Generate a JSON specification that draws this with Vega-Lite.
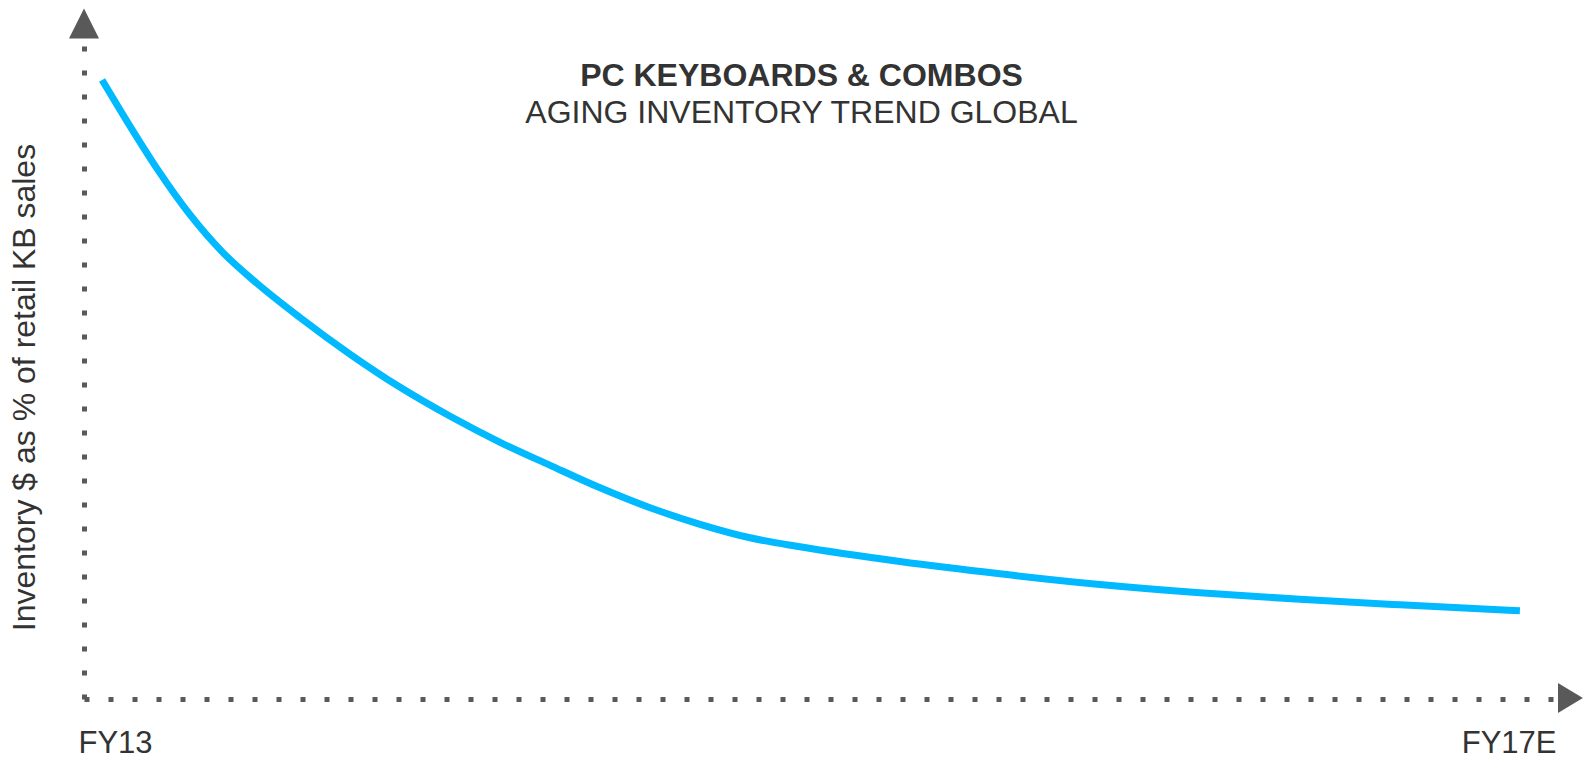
{
  "$schema": "https://vega.github.io/schema/vega-lite/v6.json",
  "width": 1471,
  "height": 654,
  "autosize": {"type": "none"},
  "padding": {"left": 84, "top": 45, "right": 28, "bottom": 60},
  "background": "white",
  "config": {"view": {"stroke": null}, "font": "Liberation Sans"},
  "title": {
    "text": "PC KEYBOARDS & COMBOS",
    "subtitle": "AGING INVENTORY TREND GLOBAL",
    "anchor": "middle",
    "frame": "group",
    "dx": -18,
    "offset": -122,
    "font": "Liberation Sans",
    "fontSize": 32,
    "fontWeight": "bold",
    "color": "#333333",
    "subtitleFont": "Liberation Sans",
    "subtitleFontSize": 32,
    "subtitleFontWeight": "normal",
    "subtitleColor": "#333333",
    "subtitlePadding": 5
  },
  "layer": [
    {
      "data": {
        "values": [
          {"fiscal_year": 2013.000, "inventory_pct": 94.65},
          {"fiscal_year": 2013.059, "inventory_pct": 89.34},
          {"fiscal_year": 2013.155, "inventory_pct": 81.10},
          {"fiscal_year": 2013.248, "inventory_pct": 74.05},
          {"fiscal_year": 2013.341, "inventory_pct": 68.25},
          {"fiscal_year": 2013.437, "inventory_pct": 63.55},
          {"fiscal_year": 2013.559, "inventory_pct": 58.30},
          {"fiscal_year": 2013.700, "inventory_pct": 52.71},
          {"fiscal_year": 2013.841, "inventory_pct": 47.66},
          {"fiscal_year": 2013.982, "inventory_pct": 43.23},
          {"fiscal_year": 2014.123, "inventory_pct": 39.25},
          {"fiscal_year": 2014.264, "inventory_pct": 35.73},
          {"fiscal_year": 2014.405, "inventory_pct": 32.29},
          {"fiscal_year": 2014.546, "inventory_pct": 29.24},
          {"fiscal_year": 2014.687, "inventory_pct": 26.71},
          {"fiscal_year": 2014.828, "inventory_pct": 24.65},
          {"fiscal_year": 2014.969, "inventory_pct": 23.27},
          {"fiscal_year": 2015.251, "inventory_pct": 21.02},
          {"fiscal_year": 2015.533, "inventory_pct": 19.14},
          {"fiscal_year": 2015.815, "inventory_pct": 17.51},
          {"fiscal_year": 2016.097, "inventory_pct": 16.24},
          {"fiscal_year": 2016.379, "inventory_pct": 15.24},
          {"fiscal_year": 2016.662, "inventory_pct": 14.40},
          {"fiscal_year": 2017.000, "inventory_pct": 13.49}
        ]
      },
      "mark": {"type": "line", "color": "#00B9FF", "strokeWidth": 7, "interpolate": "monotone", "strokeCap": "butt"},
      "encoding": {
        "x": {
          "field": "fiscal_year",
          "type": "quantitative",
          "scale": {"domain": [2012.949, 2017.099], "nice": false, "zero": false},
          "axis": {
            "title": null,
            "values": [2012.949, 2017.099],
            "labelExpr": "datum.value < 2015 ? 'FY13' : 'FY17E'",
            "labelFlush": true,
            "labelOffset": {"condition": {"test": "datum.value < 2015", "value": -6}, "value": 1},
            "ticks": false,
            "grid": false,
            "domainDash": [5, 19],
            "domainWidth": 5,
            "domainColor": "#595959",
            "domainCap": "butt",
            "labelFont": "Liberation Sans",
            "labelFontSize": 31,
            "labelColor": "#333333",
            "labelPadding": 29
          }
        },
        "y": {
          "field": "inventory_pct",
          "type": "quantitative",
          "scale": {"domain": [0, 100], "nice": false, "zero": false},
          "axis": {
            "title": "Inventory $ as % of retail KB sales",
            "labels": false,
            "ticks": false,
            "grid": false,
            "domainDash": [5, 19],
            "domainWidth": 5,
            "domainColor": "#595959",
            "domainCap": "butt",
            "titleFont": "Liberation Sans",
            "titleFontSize": 32,
            "titleFontWeight": "normal",
            "titleColor": "#333333",
            "titleAngle": -90,
            "titleBaseline": "alphabetic",
            "titleX": -50,
            "titleY": 342
          }
        }
      }
    },
    {
      "data": {"values": [{}]},
      "mark": {"type": "point", "filled": true, "shape": "M-1,1L0,-1L1,1Z", "size": 900, "color": "#595959", "opacity": 1},
      "encoding": {
        "x": {"datum": 2012.949, "type": "quantitative"},
        "y": {"datum": 103.3, "type": "quantitative"}
      }
    },
    {
      "data": {"values": [{}]},
      "mark": {"type": "point", "filled": true, "shape": "M-0.83,-1L0.83,0L-0.83,1Z", "size": 900, "color": "#595959", "opacity": 1},
      "encoding": {
        "x": {"datum": 2017.1425, "type": "quantitative"},
        "y": {"datum": 0.15, "type": "quantitative"}
      }
    }
  ]
}
